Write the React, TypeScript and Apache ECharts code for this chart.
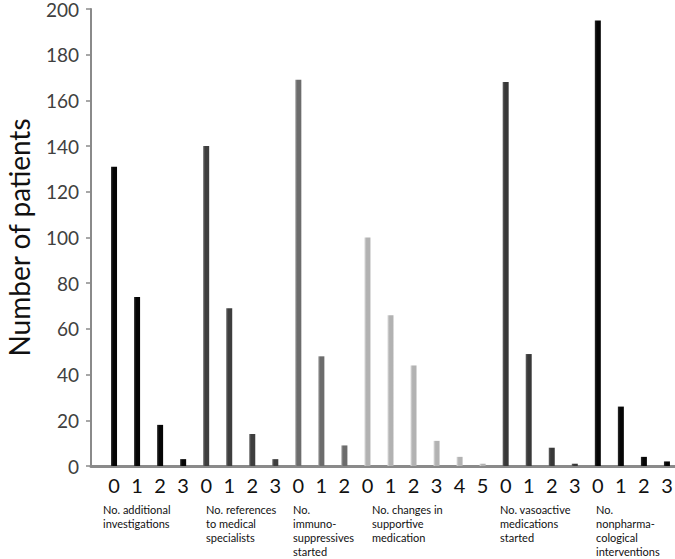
import React, { useEffect, useRef } from "react";
import * as echarts from "echarts";

const tickLabels = ["0","1","2","3","0","1","2","3","0","1","2","0","1","2","3","4","5","0","1","2","3","0","1","2","3"];
const investigations = [131, 74, 18, 3];
const references = [140, 69, 14, 3];
const immuno = [169, 48, 9];
const supportive = [100, 66, 44, 11, 4, 1];
const vasoactive = [168, 49, 8, 1];
const nonpharma = [195, 26, 4, 2];
const groupNames = [
  "No. additional\ninvestigations",
  "No. references\nto medical\nspecialists",
  "No.\nimmuno-\nsuppressives\nstarted",
  "No. changes in\nsupportive\nmedication",
  "No. vasoactive\nmedications\nstarted",
  "No.\nnonpharma-\ncological\ninterventions",
];
const groupColors = ["#050505", "#3e3e3e", "#6c6c6c", "#b2b2b2", "#383838", "#050505"];
const groupLabelX = [103, 206, 293, 372, 500, 596];

const groups = [investigations, references, immuno, supportive, vasoactive, nonpharma];

function lighten(hex: string, amt: number) {
  const n = parseInt(hex.slice(1), 16);
  const r = Math.min(255, ((n >> 16) & 255) + amt);
  const g = Math.min(255, ((n >> 8) & 255) + amt);
  const b = Math.min(255, (n & 255) + amt);
  return `rgb(${r},${g},${b})`;
}

export default function App() {
  const ref = useRef<HTMLDivElement>(null);
  useEffect(() => {
    if (!ref.current) return;
    const chart = echarts.init(ref.current, null, { renderer: "svg" });
    let pos = 1;
    const series = groups.map((vals, gi) => {
      const data = vals.map((v) => [pos++, v]);
      const c = groupColors[gi];
      return {
        type: "bar",
        data,
        barWidth: 6,
        barGap: "-100%",
        itemStyle: {
          color: new echarts.graphic.LinearGradient(0, 0, 1, 0, [
            { offset: 0, color: lighten(c, 40) },
            { offset: 0.35, color: c },
            { offset: 1, color: c },
          ]),
        },
      };
    });
    const font = "Lato, 'Open Sans', sans-serif";
    chart.setOption({
      animation: false,
      grid: { left: 91, right: 0, top: 9, bottom: 93, outerBoundsMode: "none", containLabel: false },
      xAxis: {
        type: "value",
        min: 0,
        max: 25.35,
        interval: 1,
        splitLine: { show: false },
        axisTick: { show: false },
        axisLine: { show: true, lineStyle: { color: "#8a8a8a", width: 3 } },
        axisLabel: {
          fontFamily: font,
          fontSize: 20,
          color: "#111",
          margin: 9,
          showMaxLabel: false,
          formatter: (v: number) => (Number.isInteger(v) && v >= 1 ? tickLabels[v - 1] ?? "" : ""),
        },
      },
      yAxis: {
        type: "value",
        min: 0,
        max: 200,
        interval: 20,
        name: "Number of patients",
        nameLocation: "middle",
        nameGap: 58,
        nameTextStyle: { fontFamily: font, fontSize: 28, color: "#111" },
        splitLine: { show: false },
        axisLine: { show: true, lineStyle: { color: "#8a8a8a", width: 2 } },
        axisTick: { show: true, length: 5, lineStyle: { color: "#8a8a8a", width: 1.5 } },
        axisLabel: { fontFamily: font, fontSize: 19, color: "#404040", margin: 12 },
      },
      series,
      graphic: groupNames.map((name, i) => ({
        type: "text",
        left: groupLabelX[i],
        top: 503,
        style: {
          text: name,
          fontFamily: font,
          fontSize: 11,
          lineHeight: 13.8,
          fill: "#111",
        },
      })),
    });
    return () => chart.dispose();
  }, []);
  return (
    <div
      ref={ref}
      style={{ position: "fixed", left: 0, top: 0, width: 675, height: 559, background: "#fff" }}
    />
  );
}
